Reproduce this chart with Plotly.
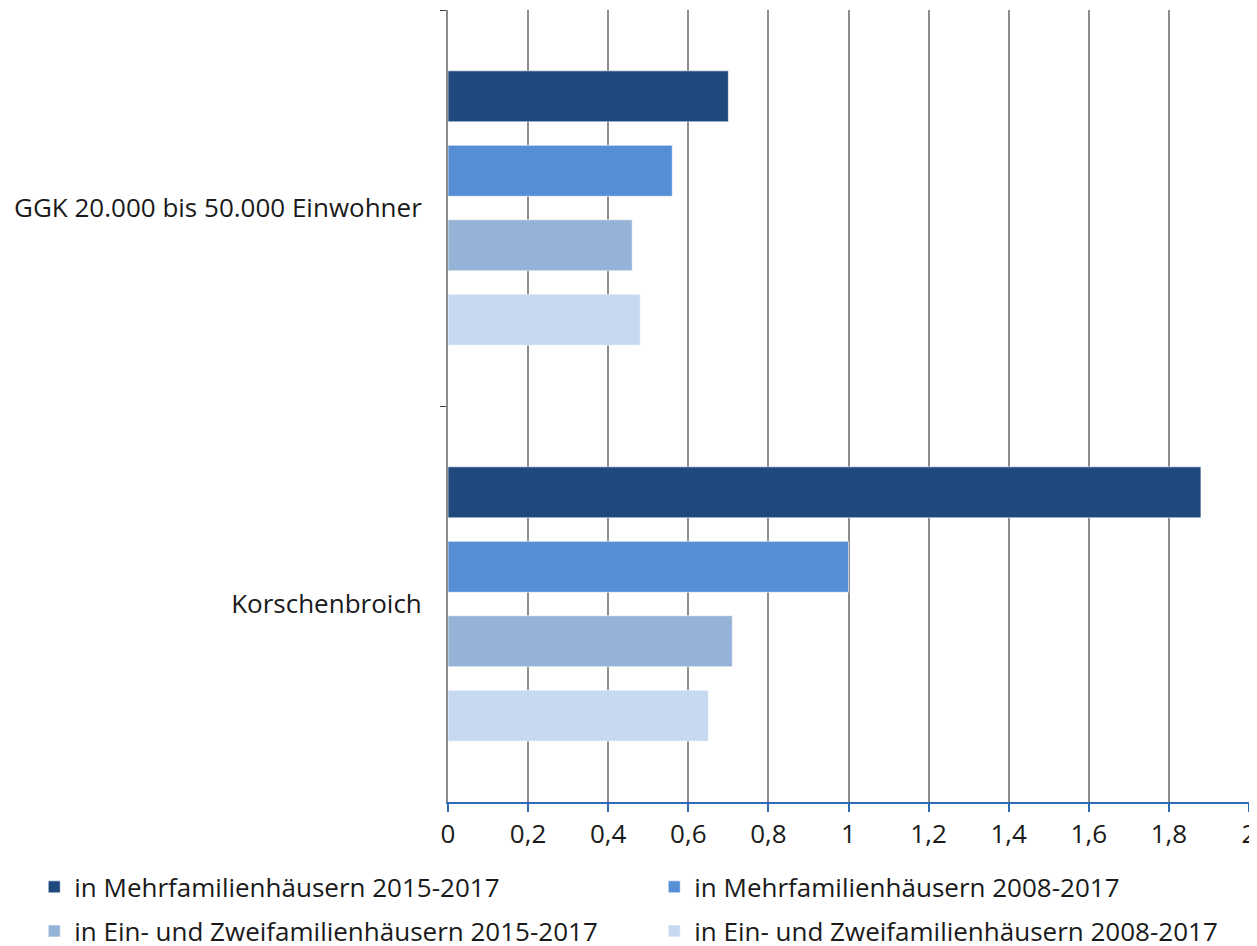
import plotly.graph_objects as go

categories = ["GGK 20.000 bis 50.000 Einwohner", "Korschenbroich"]
series_names = [
    "in Mehrfamilienhäusern 2015-2017",
    "in Mehrfamilienhäusern 2008-2017",
    "in Ein- und Zweifamilienhäusern 2015-2017",
    "in Ein- und Zweifamilienhäusern 2008-2017",
]
mfh_2015 = [0.70, 1.88]
mfh_2008 = [0.56, 1.00]
ezfh_2015 = [0.46, 0.71]
ezfh_2008 = [0.48, 0.65]
colors = ["#1F497D", "#558ED5", "#95B3D7", "#C6D9F1"]
x_ticks = [0, 0.2, 0.4, 0.6, 0.8, 1, 1.2, 1.4, 1.6, 1.8, 2]
x_tick_labels = ["0", "0,2", "0,4", "0,6", "0,8", "1", "1,2", "1,4", "1,6", "1,8", "2"]

FONT = "Open Sans, sans-serif"
FS = 26

legend_ids = ["legend", "legend2", "legend3", "legend4"]
legend_pos = [(0.021, 0.088), (0.5174, 0.088), (0.021, 0.041), (0.5174, 0.041)]

fig = go.Figure()
for name, vals, col, lid in zip(series_names, [mfh_2015, mfh_2008, ezfh_2015, ezfh_2008], colors, legend_ids):
    fig.add_trace(go.Bar(
        y=categories, x=vals, name=name, orientation="h", legend=lid,
        marker=dict(color=col, line=dict(color="rgba(255,255,255,0.6)", width=1)),
    ))

legends = {}
for lid, (lx, ly) in zip(legend_ids, legend_pos):
    legends[lid] = dict(
        orientation="h", xref="container", yref="container",
        x=lx, y=ly, xanchor="left", yanchor="top",
        font=dict(family=FONT, size=FS, color="#1a1a1a"),
        itemwidth=30, bgcolor="rgba(0,0,0,0)",
    )

fig.update_layout(
    width=1249, height=938,
    margin=dict(l=440, r=8, t=2, b=144),
    paper_bgcolor="white", plot_bgcolor="white",
    barmode="group", bargap=0.248, bargroupgap=0.315,
    font=dict(family=FONT, size=FS, color="#1a1a1a"),
    showlegend=True,
    xaxis=dict(
        range=[0, 2], tickvals=x_ticks, ticktext=x_tick_labels,
        showgrid=True, gridcolor="#8c8c8c", gridwidth=2,
        showline=True, linecolor="#2E6DB4", linewidth=2,
        ticks="outside", ticklen=8, tickcolor="#2E6DB4", tickwidth=2,
        zeroline=False, tickfont=dict(size=FS),
    ),
    yaxis=dict(
        categoryorder="array", categoryarray=categories,
        autorange="reversed",
        showline=True, linecolor="#8c8c8c", linewidth=2,
        ticks="outside", tickson="boundaries", ticklen=6, tickcolor="#404040", tickwidth=1,
        showgrid=False, zeroline=False, tickfont=dict(size=FS),
        ticklabelstandoff=19,
    ),
    **legends,
)

fig.write_html("out.html")
